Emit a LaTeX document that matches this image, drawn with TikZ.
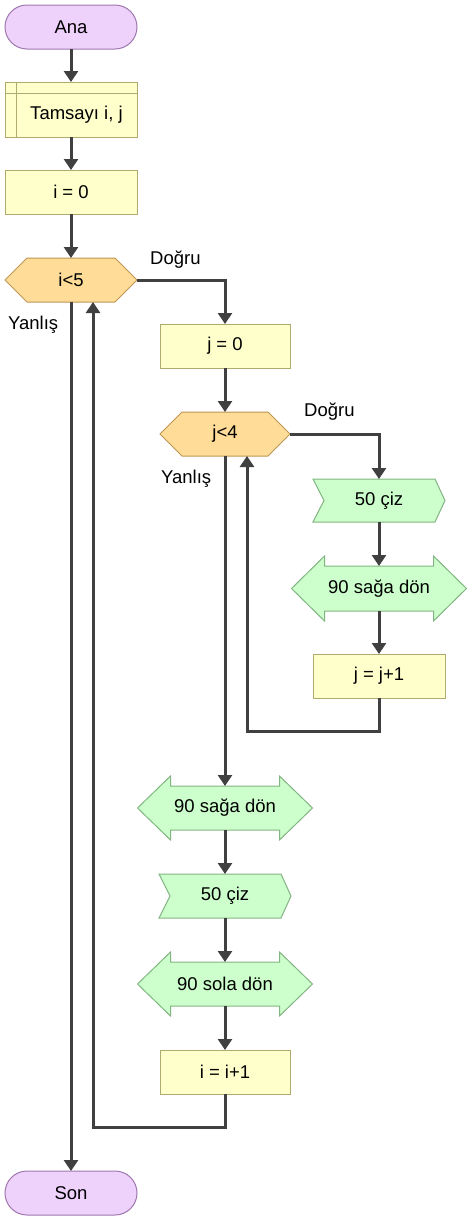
\documentclass[tikz,border=0pt]{standalone}
\usepackage{fontspec}
\setmainfont{Liberation Sans}
\usetikzlibrary{arrows.meta,backgrounds}
\definecolor{termF}{RGB}{238,210,252}
\definecolor{termD}{RGB}{160,120,175}
\definecolor{procF}{RGB}{255,255,204}
\definecolor{procD}{RGB}{175,170,110}
\definecolor{decF}{RGB}{255,221,153}
\definecolor{decD}{RGB}{190,150,80}
\definecolor{grnF}{RGB}{204,255,204}
\definecolor{grnD}{RGB}{130,180,130}
\definecolor{lineC}{RGB}{64,64,64}
\tikzset{
  base/.style={inner sep=0pt, outer sep=0pt, font=\fontsize{18.5}{22}\selectfont, text=black},
  lbl/.style={inner sep=0pt, font=\fontsize{18.5}{22}\selectfont, text=black, anchor=west},
  termsh/.style={fill=termF, draw=termD, line width=1pt, rounded corners=22pt},
  procsh/.style={fill=procF, draw=procD, line width=1pt},
  decsh/.style={fill=decF, draw=decD, line width=1pt},
  grnsh/.style={fill=grnF, draw=grnD, line width=1pt},
  arr/.style={draw=lineC, line width=3pt, -{Triangle[length=11pt,width=14pt]}}
}
\begin{document}
\begin{tikzpicture}[x=1pt,y=-1pt]
\useasboundingbox (0,0) rectangle (473,1221);
% nodes
\node[base, minimum width=132, minimum height=44] (ana) at (71,27) {Ana};
\node[base, minimum width=132, minimum height=55] (tam) at (71,109.5) {};
\node[base] (tamtxt) at (76.5,115) {Tamsayı i, j};
\node[base, minimum width=132, minimum height=44] (i0) at (71,192) {i = 0};
\node[base, minimum width=132, minimum height=44] (c1) at (71,280) {i<5};
\node[base, minimum width=130, minimum height=44] (j0) at (225,346) {j = 0};
\node[base, minimum width=130, minimum height=44] (c2) at (225,434) {j<4};
\node[base, minimum width=132, minimum height=43] (ciz1) at (379,500.5) {50 çiz};
\node[base, minimum width=175, minimum height=45] (sag1) at (379,588.5) {90 sağa dön};
\node[base, minimum width=132, minimum height=44] (jinc) at (379,676) {j = j+1};
\node[base, minimum width=175, minimum height=44] (sag2) at (225,808) {90 sağa dön};
\node[base, minimum width=132, minimum height=44] (ciz2) at (225,896) {50 çiz};
\node[base, minimum width=175, minimum height=44] (sola) at (225,984) {90 sola dön};
\node[base, minimum width=130, minimum height=44] (iinc) at (225,1072) {i = i+1};
\node[base, minimum width=132, minimum height=44] (son) at (71,1193) {Son};
% labels
\node[lbl] (d1) at (150,260) {Doğru};
\node[lbl] (y1) at (8,325) {Yanlış};
\node[lbl] (d2) at (304,412) {Doğru};
\node[lbl] (y2) at (161,479) {Yanlış};
% shapes
\begin{scope}[on background layer]
\draw[termsh] (ana.north west) rectangle (ana.south east);
\draw[termsh] (son.north west) rectangle (son.south east);
\draw[procsh] (tam.north west) rectangle (tam.south east);
\draw[procsh] ([xshift=11pt]tam.north west) -- ([xshift=11pt]tam.south west);
\draw[procsh] ([yshift=-11pt]tam.north west) -- ([yshift=-11pt]tam.north east);
\foreach \n in {i0,j0,jinc,iinc}{
  \draw[procsh] (\n.north west) rectangle (\n.south east);
}
\foreach \n in {c1,c2}{
  \draw[decsh] (\n.west) -- ([xshift=22pt]\n.north west) -- ([xshift=-22pt]\n.north east) -- (\n.east)
    -- ([xshift=-22pt]\n.south east) -- ([xshift=22pt]\n.south west) -- cycle;
}
\foreach \n in {ciz1,ciz2}{
  \draw[grnsh] (\n.north west) -- ([xshift=-10pt]\n.north east) -- (\n.east) -- ([xshift=-10pt]\n.south east)
    -- (\n.south west) -- ([xshift=11pt]\n.west) -- cycle;
}
\foreach \n in {sag1,sag2,sola}{
  \draw[grnsh] (\n.west) -- ([xshift=33pt,yshift=10pt]\n.north west) -- ([xshift=33pt]\n.north west)
    -- ([xshift=-33pt]\n.north east) -- ([xshift=-33pt,yshift=10pt]\n.north east) -- (\n.east)
    -- ([xshift=-33pt,yshift=-10pt]\n.south east) -- ([xshift=-33pt]\n.south east)
    -- ([xshift=33pt]\n.south west) -- ([xshift=33pt,yshift=-10pt]\n.south west) -- cycle;
}
\end{scope}
% connectors
\draw[arr] (ana.south) -- (tam.north);
\draw[arr] (tam.south) -- (i0.north);
\draw[arr] (i0.south) -- (c1.north);
\draw[arr] (c1.east) -| (j0.north);
\draw[arr] (j0.south) -- (c2.north);
\draw[arr] (c2.east) -| (ciz1.north);
\draw[arr] (ciz1.south) -- (sag1.north);
\draw[arr] (sag1.south) -- (jinc.north);
\draw[arr] (jinc.south) -- ++(0,33) -| ([xshift=22pt]c2.south);
\draw[arr] (c2.south) -- (sag2.north);
\draw[arr] (sag2.south) -- (ciz2.north);
\draw[arr] (ciz2.south) -- (sola.north);
\draw[arr] (sola.south) -- (iinc.north);
\draw[arr] (iinc.south) -- ++(0,33) -| ([xshift=22pt]c1.south);
\draw[arr] (c1.south) -- (son.north);
\end{tikzpicture}
\end{document}
